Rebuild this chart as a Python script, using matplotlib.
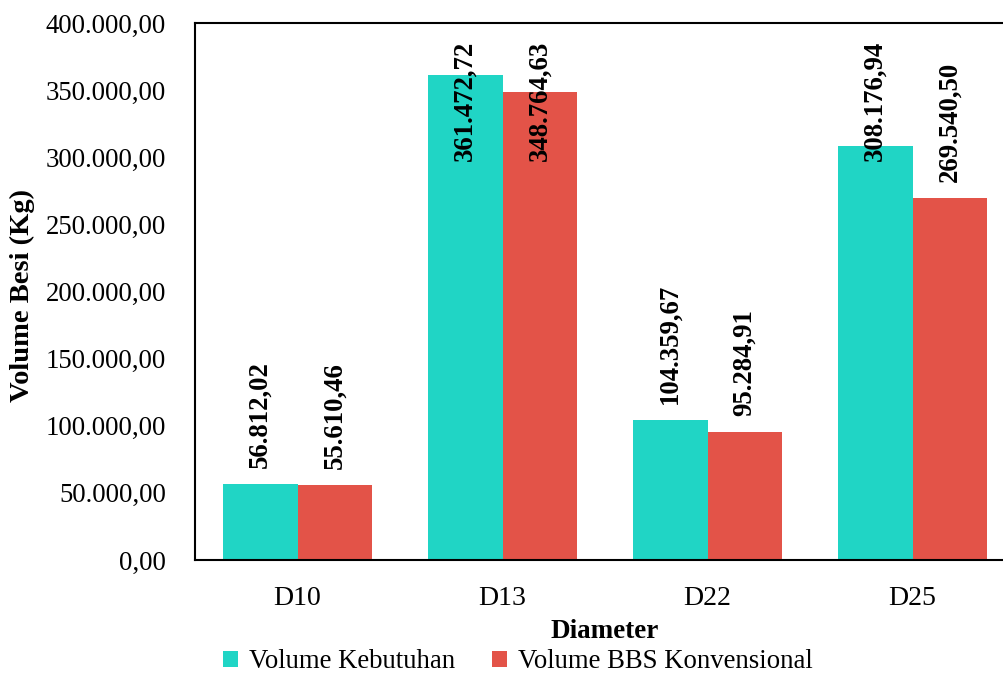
import matplotlib
matplotlib.use("Agg")
import matplotlib.pyplot as plt
from matplotlib.patches import Patch
import numpy as np

plt.rcParams['font.family'] = ['Liberation Serif', 'DejaVu Serif']

categories = ["D10", "D13", "D22", "D25"]
volume_kebutuhan = [56812.02, 361472.72, 104359.67, 308176.94]
volume_bbs = [55610.46, 348764.63, 95284.91, 269540.50]
series_names = ["Volume Kebutuhan", "Volume BBS Konvensional"]
y_ticks = [0, 50000, 100000, 150000, 200000, 250000, 300000, 350000, 400000]

teal = "#20D5C5"
red = "#E35348"


def fmt_id(v):
    # Indonesian number format: '.' for thousands, ',' for decimals
    s = f"{v:,.2f}"
    return s.replace(",", "X").replace(".", ",").replace("X", ".")


fig = plt.figure(figsize=(10.04, 6.75), dpi=100)
ax = fig.add_axes([195 / 1004, 115 / 675, 809 / 1004, 537 / 675])

x = np.arange(len(categories))
w = 0.363
b1 = ax.bar(x - w / 2, volume_kebutuhan, w, color=teal, label=series_names[0])
b2 = ax.bar(x + w / 2, volume_bbs, w, color=red, label=series_names[1])

ax.set_ylim(0, 400000)
ax.set_xlim(-0.5, -0.5 + 809 / 205)
ax.set_yticks(y_ticks)
ax.set_yticklabels([fmt_id(t) for t in y_ticks], fontsize=19.3)
ax.set_xticks(x)
ax.set_xticklabels(categories, fontsize=20)
ax.tick_params(axis='y', length=0, pad=21)
ax.tick_params(axis='x', length=0, pad=19)

for s in ["left", "top", "bottom"]:
    ax.spines[s].set_linewidth(1.5)
    ax.spines[s].set_color("black")
ax.spines["right"].set_visible(False)

# Value labels above each bar, pulled inside the plot when too tall
fig.canvas.draw()
renderer = fig.canvas.get_renderer()
ax_top = ax.get_window_extent(renderer).y1
for bars, vals in ((b1, volume_kebutuhan), (b2, volume_bbs)):
    for rect, v in zip(bars, vals):
        cx = rect.get_x() + rect.get_width() / 2
        t = ax.annotate(fmt_id(v), xy=(cx, v), xytext=(0, 11.5),
                        textcoords="offset points", rotation=90,
                        ha="center", va="bottom", fontsize=19.3,
                        fontweight="bold")
        bb = t.get_window_extent(renderer)
        if bb.y1 > ax_top - 8:
            t.remove()
            ax.annotate(fmt_id(v), xy=(cx, 400000), xytext=(0, -13),
                        textcoords="offset points", rotation=90,
                        ha="center", va="top", fontsize=19.3,
                        fontweight="bold", annotation_clip=False)

fig.text(605 / 1004, 1 - 632 / 675, "Diameter", ha="center", va="center",
         fontsize=19.5, fontweight="bold")
fig.text(22 / 1004, 1 - 296 / 675, "Volume Besi (Kg)", ha="center",
         va="center", rotation=90, fontsize=20.5, fontweight="bold")

handles = [Patch(facecolor=teal), Patch(facecolor=red)]
fig.legend(handles, series_names, loc="center", ncol=2,
           bbox_to_anchor=(518 / 1004, 1 - 662 / 675), frameon=False,
           fontsize=19.3, handlelength=0.55, handleheight=0.55,
           handletextpad=0.4, columnspacing=1.4, borderaxespad=0)

fig.savefig("out.png", dpi=100)
